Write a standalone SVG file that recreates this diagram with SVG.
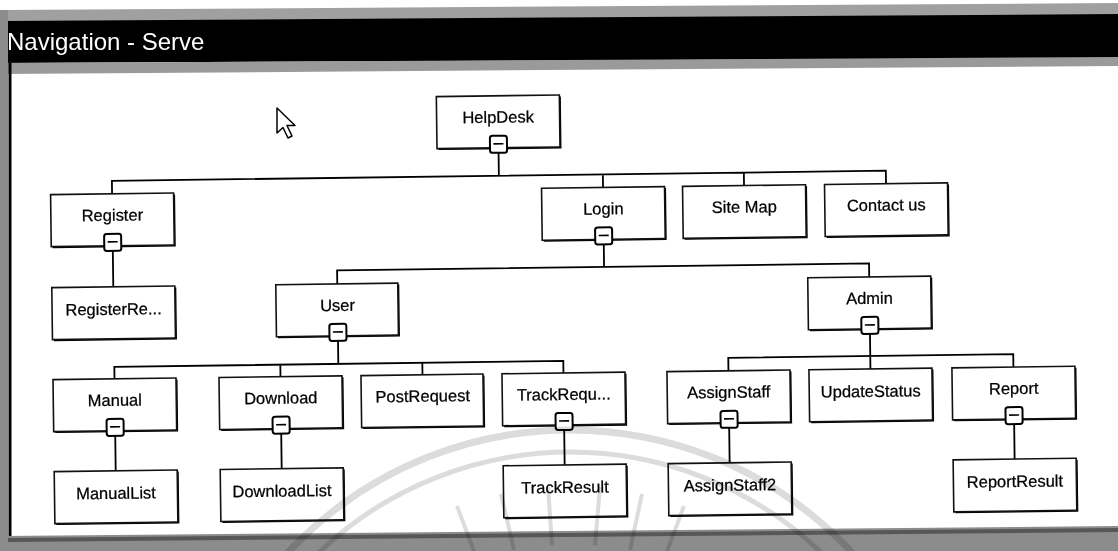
<svg xmlns="http://www.w3.org/2000/svg" width="1118" height="551" viewBox="0 0 1118 551">
<defs>
<style>
.sh{fill:#000}
.box{fill:#fff;stroke:#111;stroke-width:1.6}
.tg{fill:#fff;stroke:#000;stroke-width:2}
.mn{stroke:#000;stroke-width:1.6}
.lbl{font-family:"Liberation Sans",Arial,sans-serif;font-size:16.5px;fill:#000;stroke:#000;stroke-width:0.25;text-anchor:middle}
.con{fill:none;stroke:#000;stroke-width:1.8}
.wm{fill:none;stroke:#dcdcdc;mix-blend-mode:multiply}
</style>
</defs>
<rect width="1118" height="551" fill="#fff"/>
<!-- window frame -->
<polygon points="0,10 1118,3 1118,15 0,22" fill="#a0a0a0"/>
<polygon points="0,21 1118,14 1118,58 0,63" fill="#000"/>
<polygon points="0,63 1118,57 1118,66 0,74" fill="#9a9a9a"/>
<text x="7" y="50" font-family="'Liberation Sans',Arial,sans-serif" font-size="24" fill="#fff">Navigation - Serve</text>
<rect x="0" y="10" width="8" height="541" fill="#8c8c8c"/>
<rect x="8.5" y="63" width="3" height="476" fill="#000"/>
<polygon points="0,536 1118,526 1118,551 0,551" fill="#8c8c8c"/>
<polygon points="8,538 1118,528 1118,532 8,542" fill="#333" opacity="0.6"/>
<!-- mouse cursor -->
<polygon points="277,108 277,133 283,127.5 288,138 292,136 287,125.5 295,125.5" fill="#fff" stroke="#000" stroke-width="1.5" stroke-linejoin="round"/>
<g transform="rotate(-0.75 560 300)">
<g id="connectors">
<path class="con" d="M500.5 147V175M113.5 188V175H887.5V188M604.5 175V188M745.5 175V188"/>
<path class="con" d="M113.5 240V281M604.5 240V267.5M337.5 281V267.5H869.5V281"/>
<path class="con" d="M337.5 333V361M113.5 373V361H562.5V373M279.5 361V373M421.5 361V373"/>
<path class="con" d="M869.5 333V373M727.5 373V360H1012.5V373"/>
<path class="con" d="M113.5 425V465M279.5 425V465M562.5 425V465M727.5 425V465M1012.5 425V465"/>
</g>
<g id="helpdesk"><rect class="sh" x="440.5" y="96.5" width="123" height="52"/><rect class="box" x="439" y="95" width="123" height="52"/><text class="lbl" x="500.5" y="122">HelpDesk</text><rect class="tg" x="492" y="135" width="17" height="17" rx="2.5"/><line class="mn" x1="495.5" y1="143" x2="505.5" y2="143"/></g>
<g id="register"><rect class="sh" x="53.5" y="189.5" width="123" height="52"/><rect class="box" x="52" y="188" width="123" height="52"/><text class="lbl" x="113.5" y="215">Register</text><rect class="tg" x="105" y="228" width="17" height="17" rx="2.5"/><line class="mn" x1="108.5" y1="236" x2="118.5" y2="236"/></g>
<g id="login"><rect class="sh" x="544.5" y="189.5" width="123" height="52"/><rect class="box" x="543" y="188" width="123" height="52"/><text class="lbl" x="604.5" y="215">Login</text><rect class="tg" x="596" y="228" width="17" height="17" rx="2.5"/><line class="mn" x1="599.5" y1="236" x2="609.5" y2="236"/></g>
<g id="sitemap"><rect class="sh" x="685.5" y="189.5" width="123" height="52"/><rect class="box" x="684" y="188" width="123" height="52"/><text class="lbl" x="745.5" y="215">Site Map</text></g>
<g id="contactus"><rect class="sh" x="827.5" y="189.5" width="123" height="52"/><rect class="box" x="826" y="188" width="123" height="52"/><text class="lbl" x="887.5" y="215">Contact us</text></g>
<g id="registerre"><rect class="sh" x="53.5" y="282.5" width="123" height="52"/><rect class="box" x="52" y="281" width="123" height="52"/><text class="lbl" x="113.5" y="309">RegisterRe...</text></g>
<g id="user"><rect class="sh" x="277.5" y="282.5" width="122" height="52"/><rect class="box" x="276" y="281" width="122" height="52"/><text class="lbl" x="337.5" y="308">User</text><rect class="tg" x="329" y="321" width="17" height="17" rx="2.5"/><line class="mn" x1="332.5" y1="329" x2="342.5" y2="329"/></g>
<g id="admin"><rect class="sh" x="809.5" y="282.5" width="123" height="52"/><rect class="box" x="808" y="281" width="123" height="52"/><text class="lbl" x="869.5" y="308">Admin</text><rect class="tg" x="861" y="321" width="17" height="17" rx="2.5"/><line class="mn" x1="864.5" y1="329" x2="874.5" y2="329"/></g>
<g id="manual"><rect class="sh" x="53.5" y="374.5" width="123" height="52"/><rect class="box" x="52" y="373" width="123" height="52"/><text class="lbl" x="113.5" y="400">Manual</text><rect class="tg" x="105" y="413" width="17" height="17" rx="2.5"/><line class="mn" x1="108.5" y1="421" x2="118.5" y2="421"/></g>
<g id="download"><rect class="sh" x="219.5" y="374.5" width="123" height="52"/><rect class="box" x="218" y="373" width="123" height="52"/><text class="lbl" x="279.5" y="400">Download</text><rect class="tg" x="271" y="413" width="17" height="17" rx="2.5"/><line class="mn" x1="274.5" y1="421" x2="284.5" y2="421"/></g>
<g id="postrequest"><rect class="sh" x="361.5" y="374.5" width="122" height="52"/><rect class="box" x="360" y="373" width="122" height="52"/><text class="lbl" x="421.5" y="400">PostRequest</text></g>
<g id="trackrequ"><rect class="sh" x="502.5" y="374.5" width="123" height="52"/><rect class="box" x="501" y="373" width="123" height="52"/><text class="lbl" x="562.5" y="400">TrackRequ...</text><rect class="tg" x="554" y="413" width="17" height="17" rx="2.5"/><line class="mn" x1="557.5" y1="421" x2="567.5" y2="421"/></g>
<g id="assignstaff"><rect class="sh" x="667.5" y="374.5" width="123" height="52"/><rect class="box" x="666" y="373" width="123" height="52"/><text class="lbl" x="727.5" y="400">AssignStaff</text><rect class="tg" x="719" y="413" width="17" height="17" rx="2.5"/><line class="mn" x1="722.5" y1="421" x2="732.5" y2="421"/></g>
<g id="updatestatus"><rect class="sh" x="809.5" y="374.5" width="123" height="52"/><rect class="box" x="808" y="373" width="123" height="52"/><text class="lbl" x="869.5" y="401">UpdateStatus</text></g>
<g id="report"><rect class="sh" x="952.5" y="374.5" width="123" height="52"/><rect class="box" x="951" y="373" width="123" height="52"/><text class="lbl" x="1012.5" y="400">Report</text><rect class="tg" x="1004" y="413" width="17" height="17" rx="2.5"/><line class="mn" x1="1007.5" y1="421" x2="1017.5" y2="421"/></g>
<g id="manuallist"><rect class="sh" x="53.5" y="466.5" width="123" height="52"/><rect class="box" x="52" y="465" width="123" height="52"/><text class="lbl" x="113.5" y="493">ManualList</text></g>
<g id="downloadlist"><rect class="sh" x="219.5" y="466.5" width="123" height="52"/><rect class="box" x="218" y="465" width="123" height="52"/><text class="lbl" x="279.5" y="493">DownloadList</text></g>
<g id="trackresult"><rect class="sh" x="502.5" y="466.5" width="123" height="52"/><rect class="box" x="501" y="465" width="123" height="52"/><text class="lbl" x="562.5" y="493">TrackResult</text></g>
<g id="assignstaff2"><rect class="sh" x="667.5" y="466.5" width="123" height="52"/><rect class="box" x="666" y="465" width="123" height="52"/><text class="lbl" x="727.5" y="493">AssignStaff2</text></g>
<g id="reportresult"><rect class="sh" x="952.5" y="466.5" width="123" height="52"/><rect class="box" x="951" y="465" width="123" height="52"/><text class="lbl" x="1012.5" y="493">ReportResult</text></g>
</g>
<!-- faint watermark -->
<g id="watermark">
<circle class="wm" cx="570" cy="816" r="386" stroke-width="7"/>
<circle class="wm" cx="570" cy="816" r="364" stroke-width="5"/>
<path class="wm" stroke-width="4" d="M457 506L478 562M501 494L514 550M548 487L552 545M600 487L595 545M642 494L630 550M684 506L663 562"/>
</g>
</svg>
